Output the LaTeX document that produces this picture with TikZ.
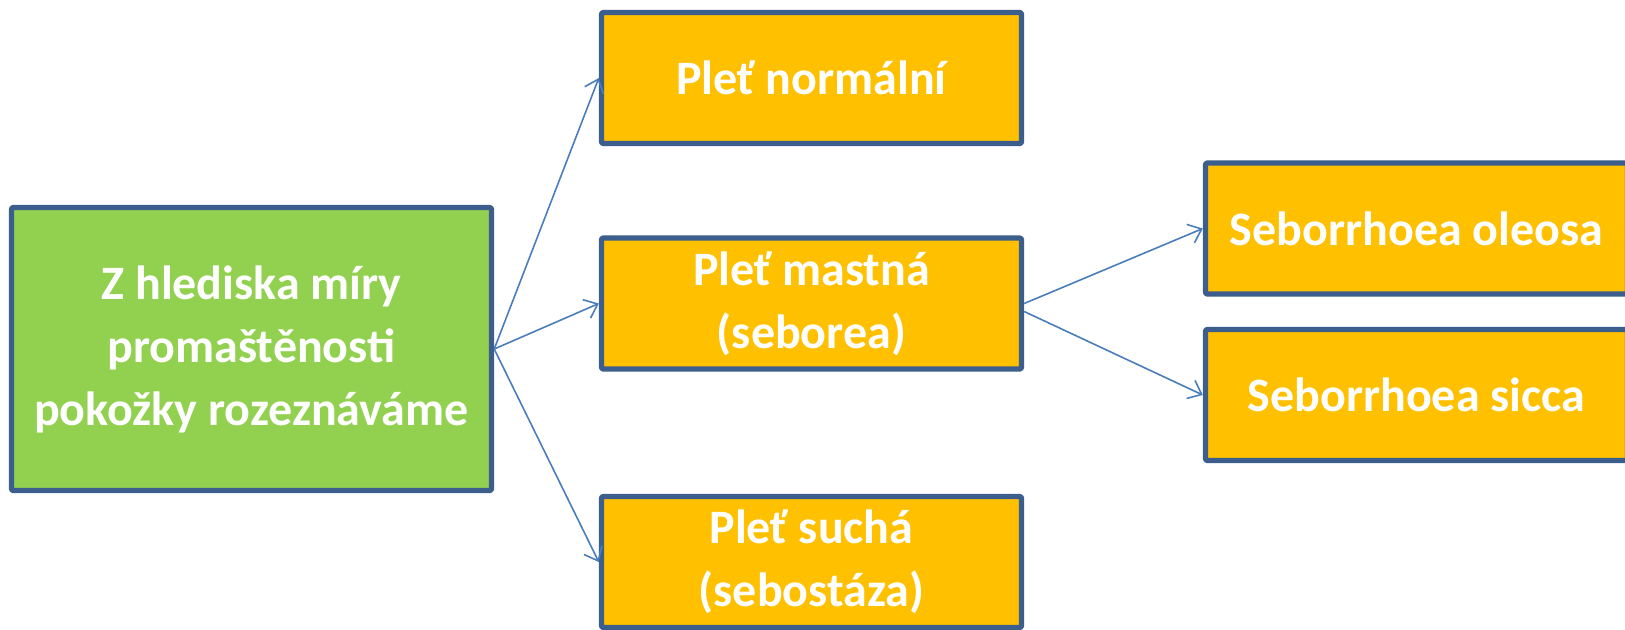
\documentclass[tikz,border=0pt]{standalone}
\usepackage{fontspec}
\setmainfont{Carlito}
\usepackage{tikz}
\usetikzlibrary{positioning,arrows.meta}

\definecolor{boxborder}{HTML}{3B5E8C}
\definecolor{boxgreen}{HTML}{92D050}
\definecolor{boxorange}{HTML}{FFC000}
\definecolor{arrowblue}{HTML}{4A7EBB}

\tikzset{
  skinbox/.style={draw=boxborder,line width=2.7pt,rounded corners=1pt,text=white,
    font=\fontsize{24}{31.5}\selectfont\bfseries,align=center,inner sep=0pt},
  mainbox/.style={skinbox,fill=boxgreen,minimum width=240pt,minimum height=141.5pt},
  typebox/.style={skinbox,fill=boxorange,minimum width=210pt,minimum height=65.5pt},
  subbox/.style={skinbox,fill=boxorange,minimum width=211pt,minimum height=65.5pt},
}

\begin{document}
\begin{tikzpicture}[x=0.5pt,y=-0.5pt,>={Straight Barb[length=6pt,width=10pt]},line join=bevel]
\useasboundingbox (0,0) rectangle (1625,629);
%%
  \node (node_main) at (251.5,349) [mainbox] {Z hlediska míry\\promaštěnosti\\pokožky rozeznáváme};

  \node (node_normal) at (811.5,78) [typebox] {Pleť normální};

  \node (node_oily) at (811.5,303.5) [typebox] {Pleť mastná\\(seborea)};

  \node (node_dry) at (811.5,562) [typebox] {Pleť suchá\\(sebostáza)};

  \node (node_oleosa) at (1416.5,228.5) [subbox] {Seborrhoea oleosa};

  \node (node_sicca) at (1416.5,395) [subbox] {Seborrhoea sicca};

  \draw [arrowblue,line width=0.8pt,->] (node_main.east) to (node_normal.west);
  \draw [arrowblue,line width=0.8pt,->] (node_main.east) to (node_oily.west);
  \draw [arrowblue,line width=0.8pt,->] (node_main.east) to (node_dry.west);
  \draw [arrowblue,line width=0.8pt,->] (node_oily.east) to (node_oleosa.west);
  \draw [arrowblue,line width=0.8pt,->] ([yshift=-4pt]node_oily.east) to (node_sicca.west);
%
\end{tikzpicture}
\end{document}
